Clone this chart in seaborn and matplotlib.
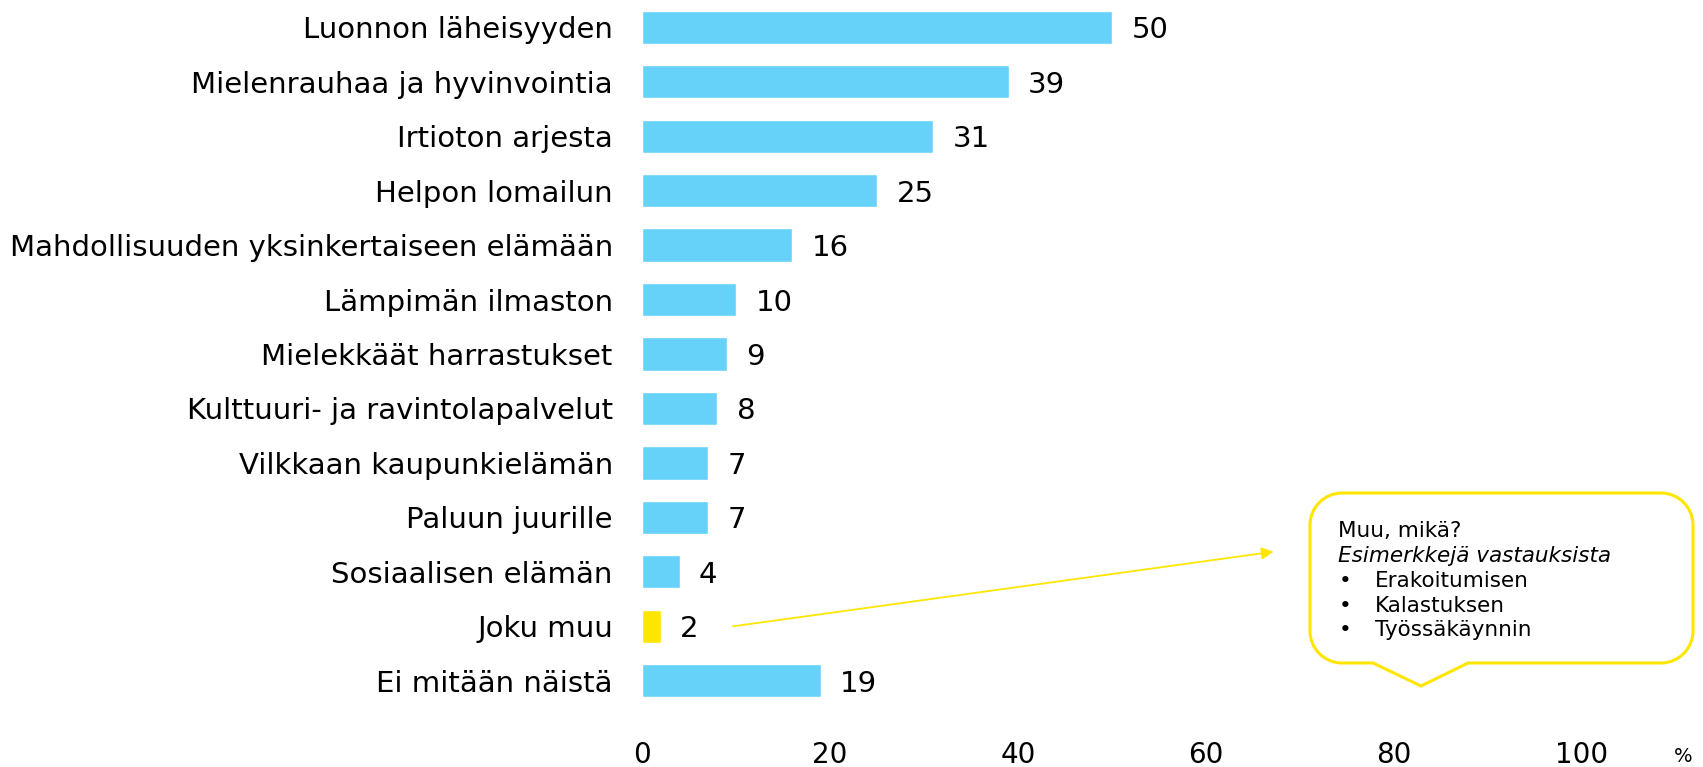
import matplotlib
matplotlib.use("Agg")
import matplotlib.pyplot as plt
from matplotlib.patches import PathPatch
from matplotlib.path import Path
import seaborn as sns
import pandas as pd

categories = [
    "Luonnon läheisyyden",
    "Mielenrauhaa ja hyvinvointia",
    "Irtioton arjesta",
    "Helpon lomailun",
    "Mahdollisuuden yksinkertaiseen elämään",
    "Lämpimän ilmaston",
    "Mielekkäät harrastukset",
    "Kulttuuri- ja ravintolapalvelut",
    "Vilkkaan kaupunkielämän",
    "Paluun juurille",
    "Sosiaalisen elämän",
    "Joku muu",
    "Ei mitään näistä",
]
values = [50, 39, 31, 25, 16, 10, 9, 8, 7, 7, 4, 2, 19]
x_ticks = [0, 20, 40, 60, 80, 100]
callout_title = "Muu, mikä?"
callout_subtitle = "Esimerkkejä vastauksista"
callout_items = ["Erakoitumisen", "Kalastuksen", "Työssäkäynnin"]

BLUE = "#66D2F9"
YELLOW = "#FFE600"

sns.set_theme(style="white")
plt.rcParams["font.family"] = ["DejaVu Sans"]
plt.rcParams["text.color"] = "black"

df = pd.DataFrame({"cat": categories, "val": values})
palette = {c: (YELLOW if c == "Joku muu" else BLUE) for c in categories}

W, H = 1703, 767
fig = plt.figure(figsize=(W / 100, H / 100), dpi=100)
ax = fig.add_axes([642 / W, 1 - 708 / H, 940 / W, 708 / H])

sns.barplot(data=df, y="cat", x="val", hue="cat", palette=palette,
            order=categories, hue_order=categories, legend=False,
            width=0.61, saturation=1, ax=ax)

for cont in ax.containers:
    for t in ax.bar_label(cont, fmt="%d", padding=14, fontsize=21, color="black"):
        t.set_va("center_baseline")

ax.set_xlim(0, 100)
ax.set_ylim(len(categories) - 0.5, -0.5)
ax.set_xticks(x_ticks)
ax.set_xticklabels([str(t) for t in x_ticks])
ax.tick_params(axis="x", length=0, pad=24, labelsize=20, labelcolor="black")
ax.tick_params(axis="y", length=0, pad=21, labelsize=21, labelcolor="black")
ax.set_xlabel("")
ax.set_ylabel("")
for s in ax.spines.values():
    s.set_visible(False)

fig.text(1683 / W, 1 - 757 / H, "%", fontsize=14, ha="center", va="center")

# Callout box (figure pixel coords)
def fx(px):
    return px / W

def fy(py):
    return 1 - py / H

L, R, T, B, r = 1310, 1693, 493, 663, 32
tip_x, tip_y = 1421, 686
b1, b2 = 1373, 1468
k = 0.45
verts = [
    (L + r, T), (R - r, T),
    (R - r * k, T), (R, T + r * k), (R, T + r),
    (R, B - r),
    (R, B - r * k), (R - r * k, B), (R - r, B),
    (b2, B), (tip_x, tip_y), (b1, B),
    (L + r, B),
    (L + r * k, B), (L, B - r * k), (L, B - r),
    (L, T + r),
    (L, T + r * k), (L + r * k, T), (L + r, T),
]
codes = [Path.MOVETO, Path.LINETO,
         Path.CURVE4, Path.CURVE4, Path.CURVE4,
         Path.LINETO,
         Path.CURVE4, Path.CURVE4, Path.CURVE4,
         Path.LINETO, Path.LINETO, Path.LINETO,
         Path.LINETO,
         Path.CURVE4, Path.CURVE4, Path.CURVE4,
         Path.LINETO,
         Path.CURVE4, Path.CURVE4, Path.CURVE4]
path = Path([(fx(x), fy(y)) for x, y in verts], codes)
fig.patches.append(PathPatch(path, transform=fig.transFigure, facecolor="white",
                             edgecolor=YELLOW, linewidth=2.2))

tx = 1338
fs = 15.5
fig.text(fx(tx), fy(531), callout_title, fontsize=fs, va="center", ha="left")
fig.text(fx(tx), fy(556), callout_subtitle, fontsize=fs, va="center", ha="left", style="italic")
for i, item in enumerate(callout_items):
    yy = 581 + 24.7 * i
    fig.text(fx(1339), fy(yy), "•", fontsize=fs, va="center", ha="left")
    fig.text(fx(1375), fy(yy), item, fontsize=fs, va="center", ha="left")

# Arrow from "Joku muu" to callout
idx = categories.index("Joku muu")
ax.annotate("", xy=(67.2, idx - 1.37), xytext=(9.7, idx),
            arrowprops=dict(arrowstyle="-|>", color=YELLOW, lw=1.3,
                            mutation_scale=18, shrinkA=0, shrinkB=0),
            annotation_clip=False)

fig.savefig("out.png", dpi=100)
